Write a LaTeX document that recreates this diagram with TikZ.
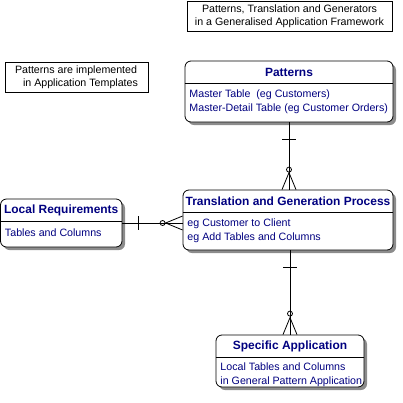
\documentclass[tikz,border=0pt]{standalone}
\usepackage{fontspec}
\setmainfont{Liberation Sans}
\usepackage{tikz}
\usetikzlibrary{positioning,calc,shadows}
\definecolor{navy}{RGB}{0,0,128}

\begin{document}
\begin{tikzpicture}[x=1bp, y=-1bp, line width=0.8bp,
	entity/.style={draw, rounded corners=6bp, fill=white, inner sep=0pt,
		drop shadow={shadow xshift=3bp, shadow yshift=-3bp, fill=black!45, opacity=1}},
	head/.style={font=\fontsize{12}{13}\selectfont\bfseries, text=navy, inner sep=0pt, minimum height=22bp, anchor=north},
	body/.style={font=\fontsize{10.7}{15}\selectfont, text=navy, align=left, inner sep=0pt, anchor=north west, xshift=4.5bp, yshift=-5.5bp},
	note/.style={draw, font=\fontsize{10.7}{13.5}\selectfont, inner sep=0pt}]
	\useasboundingbox (0,0) rectangle (403,403);

	\node[note, align=center, minimum width=205bp, minimum height=30bp] (title) at (289.5,16) {Patterns, Translation and Generators\\in a Generalised Application Framework};
	\node[note, align=left, minimum width=143bp, minimum height=30bp] (remark) at (76.5,77) {Patterns are implemented\\\hspace{8bp}in Application Templates};

	% entities
	\node[entity, minimum width=208bp, minimum height=61bp] (patterns) at (289,91.5) {};
	\node[entity, minimum width=210bp, minimum height=60bp] (transl) at (288,220) {};
	\node[entity, minimum width=121.5bp, minimum height=48bp] (local) at (61.25,223) {};
	\node[entity, minimum width=148bp, minimum height=52bp] (specific) at (290,361) {};

	\node[head] (patternsH) at (patterns.north) {Patterns};
	\node[head] (translH) at (transl.north) {Translation and Generation Process};
	\node[head] (localH) at (local.north) {Local Requirements};
	\node[head] (specificH) at (specific.north) {Specific Application};
\foreach \e in {patterns, transl, local, specific}
	\draw (\e.west |- \e H.south) -- (\e.east |- \e H.south);

	\node[body] at (patterns.west |- patternsH.south) {Master Table\ \ (eg Customers)\\Master-Detail Table (eg Customer Orders)};
	\node[body] at (transl.west |- translH.south) {eg Customer to Client\\eg Add Tables and Columns};
	\node[body, yshift=-1bp] at (local.west |- localH.south) {Tables and Columns};
	\node[body, yshift=1bp] at (specific.west |- specificH.south) {Local Tables and Columns\\in General Pattern Application};

	% relationships
	\coordinate (pt) at (patterns.south |- transl.north);
	\draw (patterns.south) -- (pt);
	\draw ($(patterns.south)+(-7,17)$) -- +(14,0);
	\draw ($(pt)+(0,-20)$) circle[radius=2.5];
	\draw ($(pt)+(-7,0)$) -- ($(pt)+(0,-17)$) -- ($(pt)+(7,0)$);

	\coordinate (lt) at (local.east -| transl.west);
	\draw (local.east) -- (lt);
	\draw ($(local.east)+(16,-7)$) -- +(0,14);
	\draw ($(lt)+(-20,0)$) circle[radius=2.5];
	\draw ($(lt)+(0,-7)$) -- ($(lt)+(-17,0)$) -- ($(lt)+(0,7)$);

	\coordinate (ts) at (specific.north |- transl.south);
	\draw (ts) -- (specific.north);
	\draw ($(ts)+(-7,17)$) -- +(14,0);
	\draw ($(specific.north)+(0,-21)$) circle[radius=2.5];
	\draw ($(specific.north)+(-7,0)$) -- ($(specific.north)+(0,-17)$) -- ($(specific.north)+(7,0)$);
\end{tikzpicture}
\end{document}
